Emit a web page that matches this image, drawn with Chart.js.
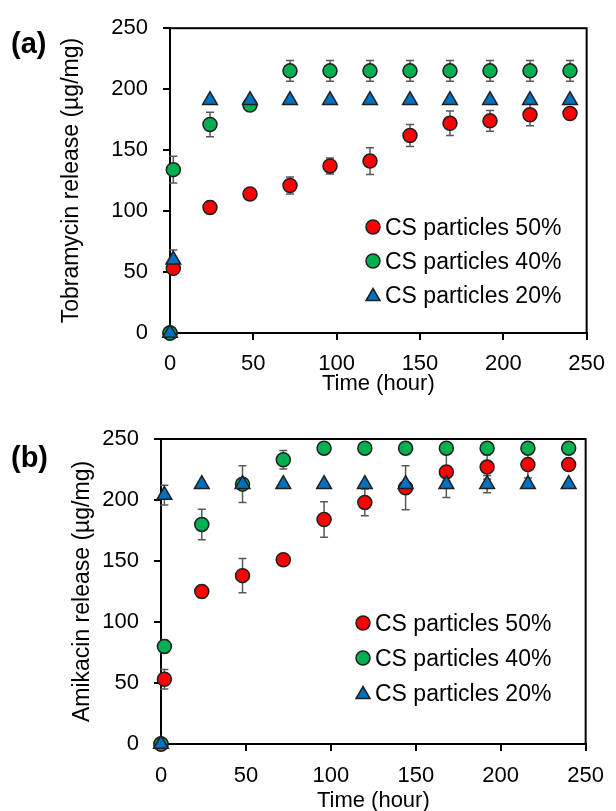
<!DOCTYPE html>
<html lang="en">
<head>
  <meta charset="UTF-8">
  <title>Tobramycin and amikacin release from CS particles</title>
  <script src="https://cdn.jsdelivr.net/npm/chart.js"></script>
  <style>
    * {
      margin: 0;
      padding: 0;
      box-sizing: border-box;
    }

    body {
      width: 616px;
      height: 811px;
      overflow: hidden;
      position: relative;
      background: #fff;
      color: #000;
      font-family: 'Liberation Sans', Arial, sans-serif;
    }

    canvas {
      position: absolute;
      left: 0;
    }

    #chartA { top: 0; }
    #chartB { top: 405px; }

    .tag {
      position: absolute;
      font-weight: bold;
      font-size: 29px;
      line-height: 1;
    }

    .legend {
      position: absolute;
      font-size: 23px;
      line-height: 26px;
    }

    .legend .row {
      display: flex;
      align-items: center;
    }

    .legend svg {
      margin-right: 4px;
    }
  </style>
</head>
<body>
  <canvas id="chartA" width="616" height="405"></canvas>
  <canvas id="chartB" width="616" height="420"></canvas>

  <div class="tag" style="left: 11px; top: 29px;">(a)</div>
  <div class="tag" style="left: 11px; top: 443px;">(b)</div>

  <div class="legend" id="legendA" style="left: 365px; top: 209.6px;"></div>
  <div class="legend" id="legendB" style="left: 355px; top: 605.9px;"></div>

  <script>
    // sampling times (hour)
    const times = [0, 2, 24, 48, 72, 96, 120, 144, 168, 192, 216, 240];
    const timeTicks = [0, 50, 100, 150, 200, 250];
    const releaseTicks = [0, 50, 100, 150, 200, 250];

    const seriesLabels = ['CS particles 50%', 'CS particles 40%', 'CS particles 20%'];
    const seriesColors = ['#ff0000', '#00b050', '#0070c0'];
    const seriesShapes = ['circle', 'circle', 'triangle'];

    // (a) tobramycin release, µg/mg
    const tobra50 = [0, 53, 103, 114, 121, 137, 141, 162, 172, 174, 179, 180];
    const tobra50Err = [0, 4, 5, 4, 7, 6.5, 11, 9, 10, 8.5, 9, 4];
    const tobra40 = [0, 134, 171, 187, 215, 215, 215, 215, 215, 215, 215, 215];
    const tobra40Err = [0, 11, 10, 3, 8.5, 8.5, 8.5, 8.5, 8.5, 8.5, 8.5, 8.5];
    const tobra20 = [0, 60, 191, 191, 191, 191, 191, 191, 191, 191, 191, 191];
    const tobra20Err = [0, 8, 0, 0, 0, 0, 0, 0, 0, 0, 0, 0];

    // (b) amikacin release, µg/mg
    const amik50 = [0, 53, 125, 138, 151, 184, 198, 210, 223, 227, 229, 229];
    const amik50Err = [0, 8, 5, 14, 0, 14.5, 11, 18, 21, 10, 11, 0];
    const amik40 = [0, 80, 180, 213, 233, 242.5, 242.5, 242.5, 242.5, 242.5, 242.5, 242.5];
    const amik40Err = [0, 5, 12.5, 15, 7.5, 0, 0, 0, 0, 0, 0, 0];
    const amik20 = [0, 204, 213, 213, 213, 213, 213, 213, 213, 213, 213, 213];
    const amik20Err = [0, 8, 2, 2, 2, 2, 2, 2, 3, 7, 2, 2];

    const errorBars = {
      id: 'errorBars',
      beforeDatasetsDraw(chart) {
        const { ctx, scales: { x, y } } = chart;
        ctx.save();
        ctx.strokeStyle = '#595959';
        ctx.lineWidth = 1.5;
        chart.data.datasets.forEach(ds => {
          (ds.errors || []).forEach((e, i) => {
            if (!e) return;
            const p = ds.data[i];
            const px = x.getPixelForValue(p.x);
            const top = y.getPixelForValue(p.y + e);
            const bot = y.getPixelForValue(p.y - e);
            ctx.beginPath();
            ctx.moveTo(px, top); ctx.lineTo(px, bot);
            ctx.moveTo(px - 4, top); ctx.lineTo(px + 4, top);
            ctx.moveTo(px - 4, bot); ctx.lineTo(px + 4, bot);
            ctx.stroke();
          });
        });
        ctx.restore();
      }
    };

    // closed box round the plot area
    const frame = {
      id: 'frame',
      beforeDatasetsDraw(chart) {
        const { ctx, chartArea: a } = chart;
        ctx.save();
        ctx.strokeStyle = '#000';
        ctx.lineWidth = 2;
        ctx.strokeRect(a.left, a.top, a.right - a.left, a.bottom - a.top);
        ctx.restore();
      }
    };

    function makeSet(i, values, errors) {
      return {
        label: seriesLabels[i],
        data: times.map((t, k) => ({ x: t, y: values[k] })),
        errors: errors,
        showLine: false,
        clip: false,
        order: 2 - i,
        pointStyle: seriesShapes[i],
        pointRadius: seriesShapes[i] === 'triangle' ? 8.5 : 7,
        pointBackgroundColor: seriesColors[i],
        pointBorderColor: '#1f1f1f',
        pointBorderWidth: 1.5
      };
    }

    function makeChart(id, sets, o) {
      const tickGrid = { drawOnChartArea: false, drawTicks: true, tickLength: 7, color: '#000', lineWidth: 2 };
      const axisBorder = { display: true, color: '#000', width: 2 };
      return new Chart(document.getElementById(id), {
        type: 'scatter',
        data: { datasets: sets },
        options: {
          responsive: false,
          animation: false,
          layout: { padding: { left: 0, right: o.right, top: o.top, bottom: 0 } },
          plugins: { legend: { display: false }, tooltip: { enabled: false } },
          scales: {
            x: {
              type: 'linear', min: 0, max: 250,
              afterBuildTicks: s => { s.ticks = timeTicks.map(v => ({ value: v })); },
              afterFit: s => { s.height = o.xHeight; },
              grid: tickGrid,
              border: axisBorder,
              ticks: { color: '#000', padding: o.xTickPad, maxRotation: 0, font: { size: 22 } },
              title: { display: true, text: 'Time (hour)', color: '#000', font: { size: 22 },
                       padding: { top: 0, bottom: o.xTitlePad } }
            },
            y: {
              type: 'linear', min: 0, max: 250,
              afterBuildTicks: s => { s.ticks = releaseTicks.map(v => ({ value: v })); },
              afterFit: s => { s.width = o.yWidth; },
              grid: tickGrid,
              border: axisBorder,
              ticks: { color: '#000', padding: 15, font: { size: 22 } },
              title: { display: true, text: o.yTitle, color: '#000', font: { size: 23 },
                       padding: { top: o.yTitlePad, bottom: 0 } }
            }
          }
        },
        plugins: [frame, errorBars]
      });
    }

    Chart.defaults.font.family = "'Liberation Sans', Arial, sans-serif";
    Chart.defaults.color = '#000';

    makeChart('chartA', [
      makeSet(0, tobra50, tobra50Err),
      makeSet(1, tobra40, tobra40Err),
      makeSet(2, tobra20, tobra20Err)
    ], { top: 24, right: 22, yWidth: 170, xHeight: 72, xTickPad: 11, xTitlePad: 8,
         yTitle: 'Tobramycin release (µg/mg)', yTitlePad: 58 });

    makeChart('chartB', [
      makeSet(0, amik50, amik50Err),
      makeSet(1, amik40, amik40Err),
      makeSet(2, amik20, amik20Err)
    ], { top: 34, right: 21, yWidth: 161, xHeight: 81, xTickPad: 12, xTitlePad: 11,
         yTitle: 'Amikacin release (µg/mg)', yTitlePad: 69 });

    // legends as html, marker shapes follow the series styles
    function marker(i) {
      const fill = seriesColors[i];
      const shape = seriesShapes[i] === 'triangle'
        ? `<polygon points="8,1.5 15,13.5 1,13.5" fill="${fill}" stroke="#1f1f1f" stroke-width="1.5"/>`
        : `<circle cx="8" cy="8" r="7" fill="${fill}" stroke="#1f1f1f" stroke-width="1.5"/>`;
      return `<svg width="16" height="16" viewBox="0 0 16 16">${shape}</svg>`;
    }

    function fillLegend(id, rowHeight) {
      document.getElementById(id).innerHTML = seriesLabels
        .map((label, i) => `<div class="row" style="height:${rowHeight}px">${marker(i)}<span>${label}</span></div>`)
        .join('');
    }

    fillLegend('legendA', 34.2);
    fillLegend('legendB', 34.7);
  </script>
</body>
</html>
